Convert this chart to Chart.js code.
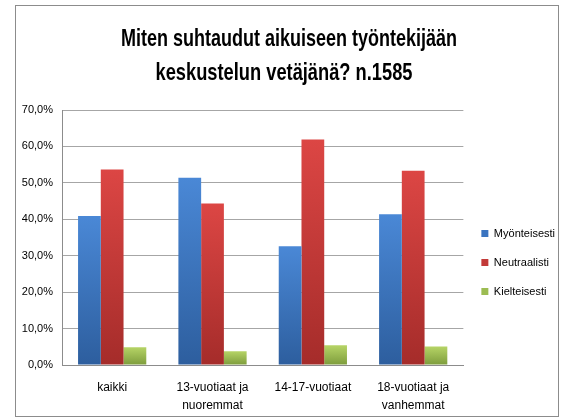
<!DOCTYPE html>
<html>
<head>
<meta charset="utf-8">
<script src="https://cdn.jsdelivr.net/npm/chart.js@4/dist/chart.umd.min.js"></script>
<style>
  html, body { margin: 0; padding: 0; background: #fff; }
  #wrap { width: 565px; height: 418px; position: relative; }
</style>
</head>
<body>
<div id="wrap"><canvas id="chart-area"></canvas></div>
<script>
const categories = ["kaikki", ["13-vuotiaat ja", "nuoremmat"], "14-17-vuotiaat", ["18-vuotiaat ja", "vanhemmat"]];
const myonteisesti = [40.9, 51.4, 32.6, 41.4];
const neutraalisti = [53.7, 44.3, 61.9, 53.3];
const kielteisesti = [4.9, 3.8, 5.4, 5.1];
const yTicks = [0, 10, 20, 30, 40, 50, 60, 70];
const titleLines = ["Miten suhtaudut aikuiseen työntekijään", "keskustelun vetäjänä? n.1585"];

const FONT = "'Liberation Sans', sans-serif";

// top light -> bottom dark, per bar
function barGradient(top, bottom) {
  return (ctx) => {
    const chart = ctx.chart;
    const y = chart.scales.y;
    if (!y || ctx.raw === undefined) return bottom;
    const yTop = y.getPixelForValue(ctx.raw);
    const yBot = y.getPixelForValue(0);
    if (!isFinite(yTop) || !isFinite(yBot) || yTop === yBot) return bottom;
    const g = chart.ctx.createLinearGradient(0, yTop, 0, yBot);
    g.addColorStop(0, top);
    g.addColorStop(1, bottom);
    return g;
  };
}

// frame + title drawn on the canvas
const frameAndTitle = {
  id: "frameAndTitle",
  beforeDraw(chart) {
    const c = chart.ctx;
    c.save();
    c.strokeStyle = "#8c8c8c";
    c.lineWidth = 1;
    c.strokeRect(15.5, 5.5, 543, 411);
    c.restore();
  },
  afterDraw(chart) {
    const c = chart.ctx;
    c.save();
    c.fillStyle = "#000";
    c.textBaseline = "alphabetic";
    c.textAlign = "center";
    c.font = "bold 24px " + FONT;
    const widths = [336, 257];
    const centers = [289, 284];
    const baselines = [46, 80];
    titleLines.forEach((t, i) => {
      const w = c.measureText(t).width;
      const sx = widths[i] / w;
      c.save();
      c.translate(centers[i], baselines[i]);
      c.scale(sx, 1);
      c.fillText(t, 0, 0);
      c.restore();
    });
    c.restore();
  }
};

new Chart("chart-area", {
  type: "bar",
  data: {
    labels: categories,
    datasets: [
      {
        label: "Myönteisesti",
        data: myonteisesti,
        backgroundColor: barGradient("#4a88d6", "#2d5e9e"),
        borderWidth: 0,
      },
      {
        label: "Neutraalisti",
        data: neutraalisti,
        backgroundColor: barGradient("#dc4644", "#a52c2a"),
        borderWidth: 0,
      },
      {
        label: "Kielteisesti",
        data: kielteisesti,
        backgroundColor: barGradient("#b6d466", "#7d9c3c"),
        borderWidth: 0,
      },
    ],
  },
  options: {
    responsive: true,
    maintainAspectRatio: false,
    animation: false,
    categoryPercentage: 0.68,
    barPercentage: 1,
    layout: { padding: { left: 20, right: 0, top: 110, bottom: 3 } },
    plugins: {
      title: { display: false },
      tooltip: { enabled: false },
      legend: {
        position: "right",
        labels: {
          font: { family: FONT, size: 11 },
          color: "#000",
          boxWidth: 7,
          boxHeight: 7,
          padding: 18,
          generateLabels(chart) {
            const cols = ["#3a74c0", "#c23a38", "#9cbc52"];
            return chart.data.datasets.map((ds, i) => ({
              text: ds.label,
              fillStyle: cols[i],
              strokeStyle: cols[i],
              lineWidth: 0,
              datasetIndex: i,
              hidden: false,
            }));
          },
        },
      },
    },
    scales: {
      x: {
        grid: { display: false, drawTicks: false },
        border: { color: "#8c8c8c" },
        ticks: {
          font: { family: FONT, size: 12, lineHeight: 1.55 },
          color: "#000",
          maxRotation: 0,
          autoSkip: false,
          padding: 13,
        },
        afterFit(scale) { scale.height = 50; },
      },
      y: {
        min: 0,
        max: 70,
        afterBuildTicks(scale) { scale.ticks = yTicks.map((v) => ({ value: v })); },
        grid: { color: "#a6a6a6", drawTicks: false },
        border: { color: "#8c8c8c" },
        ticks: {
          font: { family: FONT, size: 11 },
          color: "#000",
          padding: 9,
          callback: (v) => v.toFixed(1).replace(".", ",") + "%",
        },
        afterFit(scale) { scale.width = 42; },
      },
    },
  },
  plugins: [frameAndTitle],
});
</script>
</body>
</html>
